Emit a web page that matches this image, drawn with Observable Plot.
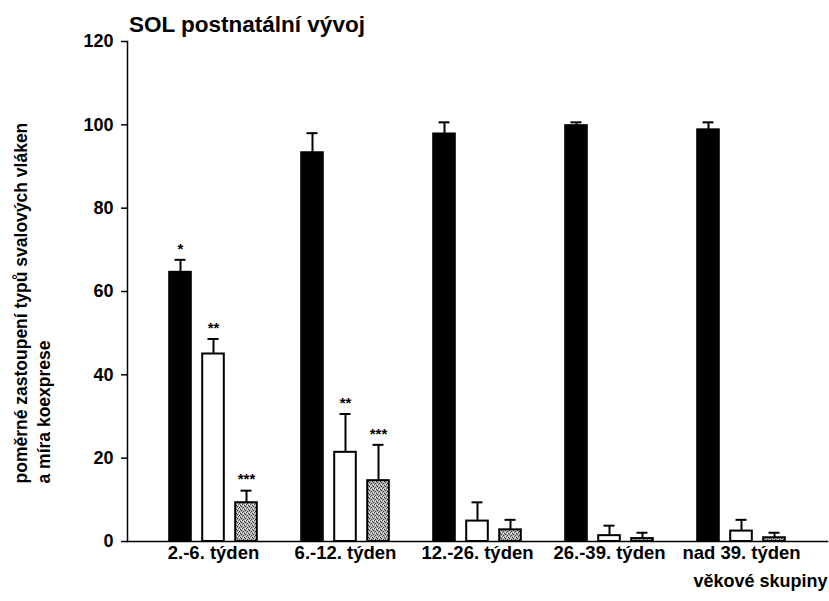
<!DOCTYPE html>
<html>
<head>
<meta charset="utf-8">
<script src="https://cdn.jsdelivr.net/npm/d3@7"></script>
<script src="https://cdn.jsdelivr.net/npm/@observablehq/plot@0.6"></script>
<style>
  html, body { margin: 0; padding: 0; background: #fff; }
  #wrap { position: relative; width: 829px; height: 601px; }
  #title { position: relative; height: 30px; }
  #title span { position: absolute; left: 129px; top: 14px; z-index: 2; white-space: nowrap;
    font: bold 22.5px/22px "Liberation Sans", Arial, sans-serif; color: #000; }
  #chart svg { overflow: visible; }
</style>
</head>
<body>
<svg width="0" height="0" style="position:absolute">
  <defs>
    <pattern id="stip" width="4" height="4" patternUnits="userSpaceOnUse">
      <rect width="4" height="4" fill="#b4b4b4"></rect>
      <rect x="0" y="0" width="1" height="1" fill="#333"></rect>
      <rect x="2" y="1" width="1" height="1" fill="#444"></rect>
      <rect x="1" y="2" width="1" height="1" fill="#555"></rect>
      <rect x="3" y="3" width="1" height="1" fill="#333"></rect>
      <rect x="2" y="3" width="1" height="1" fill="#eee"></rect>
      <rect x="0" y="2" width="1" height="1" fill="#eee"></rect>
    </pattern>
  </defs>
</svg>
<div id="wrap">
  <div id="title"><span>SOL postnatální vývoj</span></div>
  <div id="chart"></div>
</div>
<script>
// ---- data ----
const groups = ["2.-6. týden", "6.-12. týden", "12.-26. týden", "26.-39. týden", "nad 39. týden"];
const seriesNames = ["černé", "bílé", "šedé"];
const blackValues = [64.6, 93.3, 97.8, 99.8, 98.8];
const blackErrors = [3.0, 4.7, 2.8, 0.8, 1.8];
const whiteValues = [45.0, 21.4, 4.9, 1.4, 2.5];
const whiteErrors = [3.6, 9.2, 4.5, 2.4, 2.7];
const greyValues = [9.3, 14.6, 2.8, 0.7, 0.9];
const greyErrors = [2.9, 8.6, 2.4, 1.4, 1.2];
const blackStars = ["*", "", "", "", ""];
const whiteStars = ["**", "**", "", "", ""];
const greyStars = ["***", "***", "", "", ""];
const yTicks = [0, 20, 40, 60, 80, 100, 120];
const yLabel = "poměrné zastoupení typů svalových vláken\na míra koexprese";
const xLabel = "věkové skupiny";

const seriesData = [
  {name: seriesNames[0], values: blackValues, errors: blackErrors, stars: blackStars},
  {name: seriesNames[1], values: whiteValues, errors: whiteErrors, stars: whiteStars},
  {name: seriesNames[2], values: greyValues, errors: greyErrors, stars: greyStars}
];
const rows = seriesData.map(s => groups.map((g, i) => ({
  group: g, series: s.name, value: s.values[i], err: s.errors[i], star: s.stars[i]
})));

// ---- styling ----
const fills = ["#000", "#fff", "url(#stip)"];
const offsets = [-33, 0, 33];
const barInset = 55.2;
const capInset = 60.5;
const font = '"Liberation Sans", Arial, sans-serif';

const marks = [];
rows.forEach((data, k) => {
  marks.push(Plot.ruleX(data, {x: "group", y1: "value", y2: d => d.value + d.err, dx: offsets[k], stroke: "#000", strokeWidth: 2}));
  marks.push(Plot.tickY(data, {x: "group", y: d => d.value + d.err, dx: offsets[k], insetLeft: capInset, insetRight: capInset, stroke: "#000", strokeWidth: 2}));
  marks.push(Plot.barY(data, {x: "group", y: "value", dx: offsets[k], insetLeft: barInset, insetRight: barInset,
    fill: fills[k], stroke: "#000", strokeWidth: 2}));
  marks.push(Plot.text(data.filter(d => d.star), {x: "group", y: d => d.value + d.err, text: "star", dx: offsets[k], dy: -11,
    fontSize: 15, fontWeight: "bold"}));
});

const plot = Plot.plot({
  width: 829,
  height: 571,
  marginTop: 11,
  marginBottom: 60,
  marginLeft: 127,
  marginRight: 2,
  style: {fontFamily: font, fontSize: "18px", fontWeight: "bold", color: "#000", background: "transparent"},
  x: {domain: groups, paddingInner: 0, paddingOuter: 0.144, label: null},
  y: {domain: [0, 120], label: null},
  marks: [
    ...marks,
    Plot.frame({anchor: "left", stroke: "#000", strokeWidth: 1.5}),
    Plot.frame({anchor: "bottom", stroke: "#000", strokeWidth: 1.5}),
    Plot.axisY({ticks: yTicks, tickSize: 6, tickPadding: 8, label: null, fontSize: 18, strokeWidth: 1.5}),
    Plot.axisX({tickSize: 0, tickPadding: 4, label: null, fontSize: 18.5}),
    Plot.text([yLabel], {text: d => d, frameAnchor: "left", rotate: -90, textAnchor: "start",
      dx: -96, dy: 192, fontSize: 17.5, fontWeight: "bold", lineHeight: 1.32}),
    Plot.text([xLabel], {text: d => d, frameAnchor: "bottom-right", textAnchor: "end",
      dy: 45, fontSize: 18, fontWeight: "bold"})
  ]
});
document.getElementById("chart").appendChild(plot);
</script>
</body>
</html>
